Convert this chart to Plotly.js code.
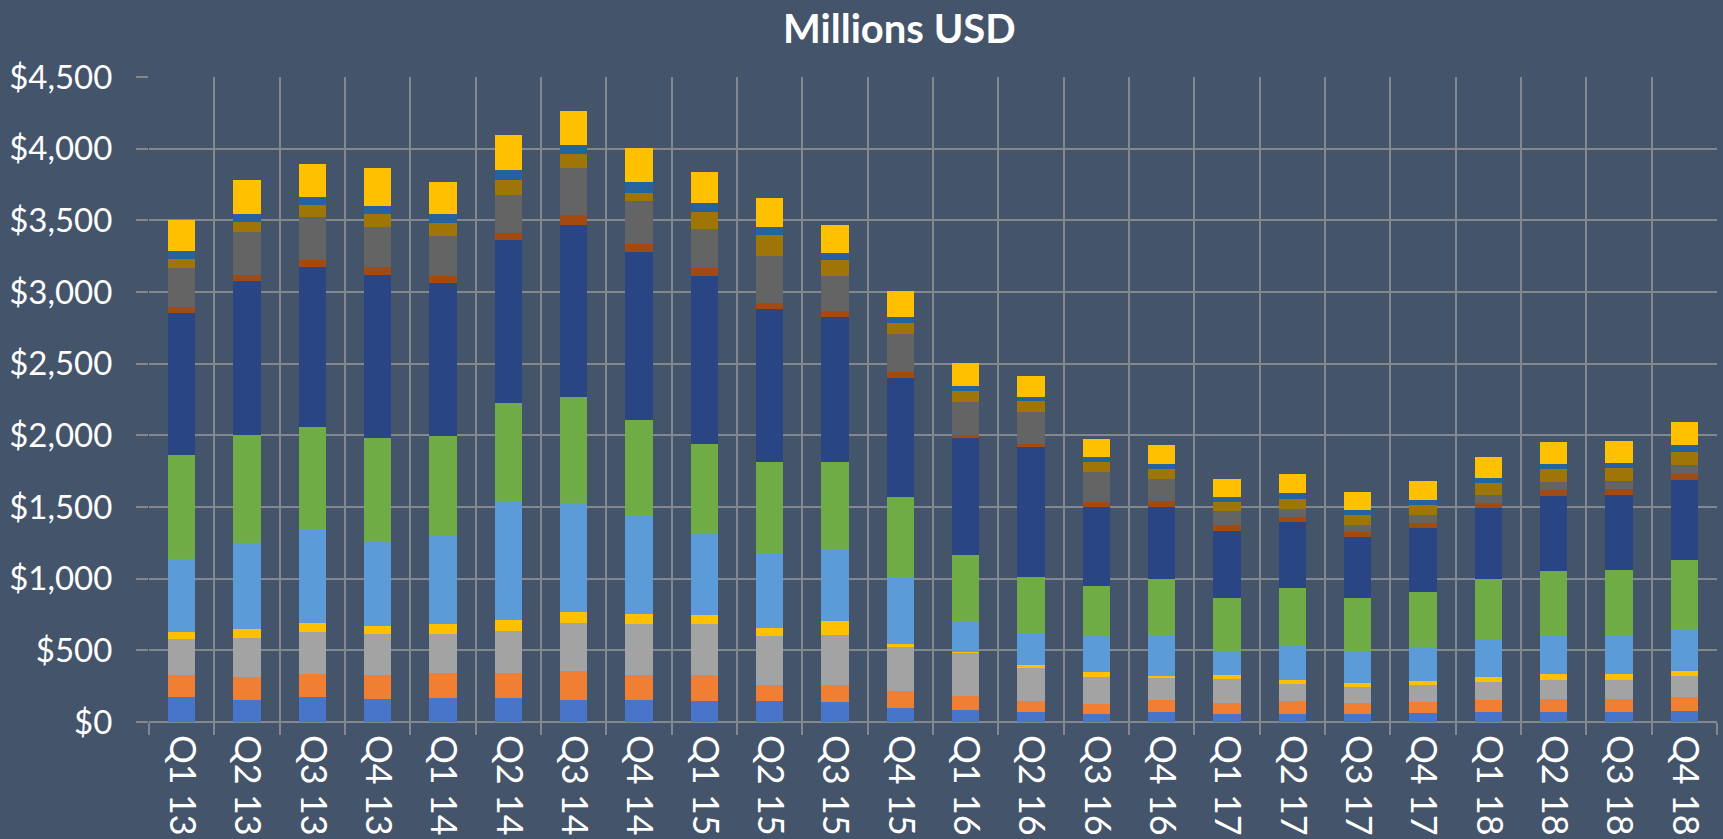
<!DOCTYPE html>
<html>
<head>
<meta charset="utf-8">
<script src="https://cdn.plot.ly/plotly-3.0.1.min.js"></script>
<style>
html,body{margin:0;padding:0;background:#44546A;}
#chart{width:1723px;height:839px;}
</style>
</head>
<body>
<div id="chart"></div>
<script>
const categories = ["Q1 13","Q2 13","Q3 13","Q4 13","Q1 14","Q2 14","Q3 14","Q4 14","Q1 15","Q2 15","Q3 15","Q4 15","Q1 16","Q2 16","Q3 16","Q4 16","Q1 17","Q2 17","Q3 17","Q4 17","Q1 18","Q2 18","Q3 18","Q4 18"];

const s1 = [175,151,175,160,165,165,154,154,150,150,139,100,86,68,56,70,54,58,54,61,70,70,70,74];
const s2 = [151,160,158,166,180,180,205,177,181,110,116,113,93,76,67,81,76,86,76,76,83,90,90,100];
const s3 = [250,274,292,287,269,291,330,353,352,339,354,307,301,233,189,154,168,121,112,119,126,135,135,149];
const s4 = [50,62,64,55,67,73,76,67,65,60,97,21,5,19,35,14,28,26,28,28,35,40,40,33];
const s5 = [510,599,656,585,614,830,765,690,573,523,497,473,211,223,251,286,168,245,224,238,258,272,272,293];
const s6 = [727,755,710,727,703,689,740,669,622,635,614,559,468,391,349,391,370,398,370,384,426,446,453,481];
const s7 = [991,1074,1119,1139,1068,1138,1200,1169,1166,1061,1011,830,819,908,552,503,468,461,426,447,495,524,524,558];
const s8 = [40,42,52,55,48,45,64,59,55,47,42,42,17,23,35,42,42,35,35,35,35,42,42,42];
const s9 = [271,300,297,278,274,269,328,294,279,323,244,265,232,221,209,154,97,55,49,56,56,55,55,63];
const s10 = [64,71,82,92,90,104,98,62,113,147,106,76,77,77,70,69,63,70,70,69,83,91,91,91];
const s11 = [57,56,55,54,65,70,67,76,63,61,49,42,35,28,35,38,38,42,34,35,35,35,35,49];
const s12 = [217,236,230,270,227,244,233,238,215,197,195,181,161,147,126,130,123,133,126,133,147,153,153,160];

const seriesNames = ["Series 1","Series 2","Series 3","Series 4","Series 5","Series 6","Series 7","Series 8","Series 9","Series 10","Series 11","Series 12"];
const seriesValues = [s1,s2,s3,s4,s5,s6,s7,s8,s9,s10,s11,s12];
const seriesColors = ["#4874CA","#F07F34","#A3A3A3","#FFC000","#5A9BD8","#6FAC45","#2A4583","#A24A10","#646464","#9E7506","#2563A0","#FFC000"];

const FONT = "Lato, 'Open Sans', sans-serif";

const traces = seriesValues.map((vals, i) => ({
  type: "bar",
  name: seriesNames[i],
  x: categories,
  y: vals,
  marker: {color: seriesColors[i], line: {width: 0}},
  hoverinfo: "x+y+name"
}));

const grid = "#83878e";

const layout = {
  width: 1723,
  height: 839,
  paper_bgcolor: "#44546A",
  plot_bgcolor: "#44546A",
  barmode: "stack",
  bargap: 0.58,
  showlegend: false,
  margin: {l: 149, r: 6, t: 77, b: 117, pad: 0},
  title: {
    text: "<b>Millions USD</b>",
    font: {family: FONT, size: 40, color: "#FFFFFF"},
    x: 0.522, xref: "container", xanchor: "center",
    y: 0.965, yref: "container", yanchor: "middle"
  },
  xaxis: {
    type: "category",
    tickson: "boundaries",
    ticks: "outside",
    ticklen: 12,
    tickwidth: 2,
    tickcolor: grid,
    showgrid: true,
    gridcolor: grid,
    gridwidth: 2,
    tickangle: 90,
    ticklabelstandoff: 12,
    tickfont: {family: FONT, size: 36, color: "#FFFFFF"},
    showline: false,
    zeroline: false
  },
  yaxis: {
    range: [0, 4500],
    dtick: 500,
    tick0: 0,
    ticks: "outside",
    ticklen: 12,
    tickwidth: 2,
    tickcolor: grid,
    showgrid: true,
    gridcolor: grid,
    gridwidth: 2,
    tickprefix: "$",
    tickformat: ",d",
    ticklabelstandoff: 17,
    tickfont: {family: FONT, size: 33, color: "#FFFFFF"},
    showline: false,
    zeroline: true,
    zerolinecolor: grid,
    zerolinewidth: 2
  }
};

Plotly.newPlot("chart", traces, layout, {displayModeBar: false, staticPlot: true});
</script>
</body>
</html>
